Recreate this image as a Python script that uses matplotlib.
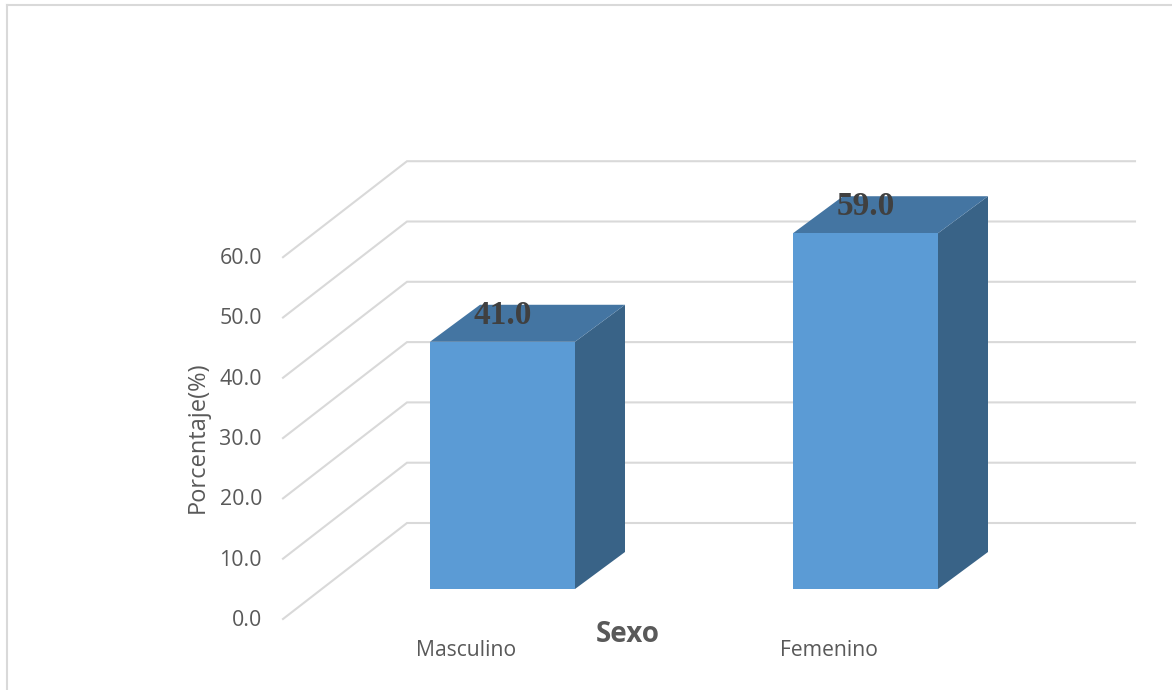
import matplotlib
matplotlib.use("Agg")
import matplotlib.pyplot as plt
from matplotlib.patches import Polygon, Rectangle

categories = ["Masculino", "Femenino"]
values = [41.0, 59.0]
y_ticks = [0, 10, 20, 30, 40, 50, 60]
y_tick_labels = ["0.0", "10.0", "20.0", "30.0", "40.0", "50.0", "60.0"]
x_title = "Sexo"
y_title = "Porcentaje(%)"

W, H = 1172, 690
PX_PER_UNIT = 6.03
PX_PER_CAT = 363.0
X0_PX, Y0_PX = 502.5, 589.0

def dx(px):
    return px / PX_PER_CAT

def dy(px):
    return px / PX_PER_UNIT

fig = plt.figure(figsize=(W / 100, H / 100), dpi=100, facecolor="white")
ax = fig.add_axes([0, 0, 1, 1])
ax.set_xlim(-X0_PX / PX_PER_CAT, (W - X0_PX) / PX_PER_CAT)
ax.set_ylim(-(H - Y0_PX) / PX_PER_UNIT, Y0_PX / PX_PER_UNIT)
ax.axis("off")

GRID = "#d9d9d9"
TEXT = "#595959"
FONT = ["Open Sans", "DejaVu Sans"]
FRONT, TOP, SIDE = "#5b9bd5", "#4475a2", "#396387"

# outer chart border (open on the right and bottom edges)
bx = -X0_PX / PX_PER_CAT + dx(7)
by = Y0_PX / PX_PER_UNIT - dy(5)
ax.plot([bx, bx], [-(H - Y0_PX) / PX_PER_UNIT, by], color=GRID, lw=1.5, zorder=1)
ax.plot([bx, (W - X0_PX) / PX_PER_CAT], [by, by], color=GRID, lw=1.5, zorder=1)

# gridlines: side wall then back wall
x_front = dx(283 - X0_PX)
x_back = dx(407 - X0_PX)
x_end = dx(1135 - X0_PX)
for t, lab in zip(y_ticks, y_tick_labels):
    y_front = t * 1.0 + dy(589 - 619)
    y_back = t * 1.0 + dy(589 - 523)
    ax.plot([x_front, x_back, x_end], [y_front, y_back, y_back],
            color=GRID, lw=1.5, zorder=2, solid_joinstyle="miter")
    ax.text(dx(262 - X0_PX), y_front - dy(1.5), lab, ha="right", va="center",
            fontsize=15.4, color=TEXT, family=FONT)

# 3-D bars
half = dx(72.5)
ddx, ddy = dx(50), dy(37)
for i, (cat, v) in enumerate(zip(categories, values)):
    l, r = i - half, i + half
    ax.add_patch(Polygon([(r, 0), (r + ddx, ddy), (r + ddx, v + ddy), (r, v)],
                         closed=True, fc=SIDE, ec="none", zorder=3))
    ax.add_patch(Polygon([(l, v), (r, v), (r + ddx, v + ddy), (l + ddx, v + ddy)],
                         closed=True, fc=TOP, ec="none", zorder=3))
    ax.add_patch(Rectangle((l, 0), r - l, v, fc=FRONT, ec="none", zorder=4))
    ax.text(i, v + dy(26.5), f"{v:.1f}", ha="center", va="center", fontsize=24,
            fontweight="bold", color="#404040", family="Liberation Serif", zorder=5)
    ax.text(i + dx(-36.5), dy(589 - 651), cat, ha="center", va="center",
            fontsize=15.2, color=TEXT, family=FONT)

ax.text(dx(628 - X0_PX), dy(589 - 634), x_title, ha="center", va="center",
        fontsize=20, fontweight="bold", color=TEXT, family=FONT)
ax.text(dx(198 - X0_PX), dy(589 - 437), y_title, ha="center", va="center",
        rotation=90, fontsize=17, color=TEXT, family=FONT)

fig.savefig("out.png", dpi=100, facecolor="white")
